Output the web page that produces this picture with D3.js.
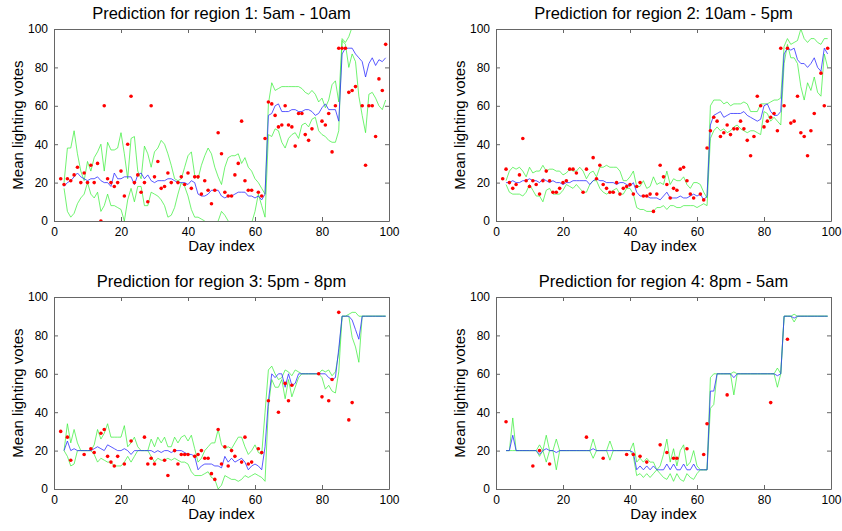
<!DOCTYPE html>
<html>
<head>
<meta charset="utf-8">
<script src="https://cdn.jsdelivr.net/npm/d3@7"></script>
<style>
  body { margin: 0; background: #fff; }
  svg { display: block; font-family: "Liberation Sans", Arial, Helvetica, sans-serif; }
</style>
</head>
<body>
<script>
// day index of the first point of every line (lines run to day 99)
var firstDay = 3;

// region 1: 5am - 10am
var r1Mean = [18,20,21,23,25,23,22,21,22,22, 23,21,20,20,18,25,22,22,23,23, 23,19,24,25,22,24,21,20,21,21,
  21,22,22,21,20,20,20,19,21,20, 14,13,13,14,16,16,16,13,12,13, 13,14,15,15,15,13,13,12,13,11,
  14,55,56,60,61,57,57,57,58,58, 57,57,58,58,57,55,56,59,61,58, 58,58,52,87,90,90,90,87,85,83, 75,82,85,81,84,83,85];
var r1Upper = [20,38,38,47,35,26,21,31,26,33, 36,40,26,41,37,37,38,46,35,22, 43,44,26,22,39,35,28,36,38,42,
  40,35,29,22,21,22,28,34,36,24, 22,29,34,38,35,28,23,19,28,33, 34,34,35,30,33,28,26,22,20,17,
  14,61,72,68,69,70,70,70,70,70, 70,69,67,66,68,66,62,64,59,63, 71,73,62,95,93,96,101,104,106,102, 100,104,106,103,101,104,106];
var r1Lower = [17,5,2,4,9,12,14,20,14,12, 15,5,8,14,8,8,7,6,0,11, 17,10,18,18,8,8,15,14,13,11,
  8,2,3,7,14,20,18,13,6,2, 2,1,0,-2,-3,-2,0,5,3,0, -2,-3,-4,-3,-2,-1,-1,5,14,8,
  2,45,44,48,47,41,38,43,45,46, 43,50,51,49,53,54,47,45,44,42, 41,41,47,94,92,80,87,83,65,55, 46,66,67,64,60,58,63];
var r1Votes = [[2,22],[3,19],[4,22],[5,21],[6,24],[7,28],[8,20],[9,25],[10,20],[11,29],[12,20],[13,30],[14,0],[15,60],
  [16,22],[17,20],[18,18],[19,20],[20,26],[21,13],[22,40],[23,65],[24,20],[25,24],[26,15],[27,20],[28,10],[29,60],
  [30,23],[31,31],[32,17],[33,18],[34,25],[35,20],[37,20],[38,23],[39,19],[40,25],[41,17],[42,23],[43,23],[44,14],
  [45,21],[46,16],[47,9],[48,16],[49,46],[50,35],[51,15],[52,13],[53,13],[54,24],[55,30],[56,52],[57,21],[58,16],
  [59,16],[61,15],[62,13],[63,43],[64,62],[65,61],[66,55],[67,49],[68,50],[69,60],[70,50],[71,49],[72,39],[73,56],
  [74,56],[75,45],[76,42],[77,48],[80,52],[81,50],[82,56],[83,36],[84,60],[85,90],[86,90],[87,90],[88,67],[89,68],
  [90,70],[92,60],[93,29],[94,60],[95,60],[96,44],[97,74],[98,68],[99,92]];

// region 2: 10am - 5pm
var r2Mean = [20,20,21,20,20,21,21,22,21,21, 20,22,21,20,21,20,20,19,20,20, 21,21,21,21,21,19,21,22,21,21,
  20,20,20,19,20,20,19,18,20,15, 13,13,13,12,12,12,11,13,15,12, 12,12,13,12,12,13,14,13,14,11,
  13,50,55,56,57,54,55,56,56,56, 56,57,55,54,53,52,53,60,61,57, 55,55,57,87,90,89,90,84,82,82, 80,82,85,80,78,90,87];
var r2Upper = [21,26,28,27,28,26,23,28,25,26, 26,29,26,27,27,26,26,24,25,27, 26,26,28,26,22,25,26,23,28,28,
  29,28,28,28,26,21,21,23,26,18, 18,21,17,18,23,19,20,19,26,19, 22,21,21,23,19,17,20,20,19,15,
  12,60,63,63,63,61,62,60,61,61, 61,62,61,57,57,57,61,61,61,62, 63,63,64,91,95,92,93,94,100,95, 93,95,95,93,92,95,95];
var r2Lower = [19,15,14,14,14,13,15,19,16,13, 13,10,16,17,14,14,14,16,19,18, 17,19,17,15,15,19,21,21,17,15,
  14,15,16,17,14,14,17,17,14,7, 6,6,5,5,5,7,7,8,6,8, 8,7,7,8,8,8,8,7,8,9,
  8,43,47,49,47,48,46,47,49,50, 48,47,46,47,47,46,45,57,56,52, 54,52,50,82,92,85,85,82,70,63, 72,68,75,67,65,87,80];
var r2Votes = [[2,22],[3,27],[4,20],[5,17],[6,19],[7,24],[8,43],[9,21],[10,18],[11,21],[12,19],[13,14],[14,21],[15,26],
  [16,21],[17,15],[18,15],[19,17],[20,20],[21,21],[22,27],[23,27],[24,25],[26,15],[27,27],[29,33],[30,22],[31,29],
  [32,19],[33,17],[34,15],[35,15],[36,20],[37,14],[38,17],[39,18],[40,19],[41,14],[42,18],[43,20],[44,13],[45,13],
  [46,14],[47,5],[48,14],[49,29],[50,23],[51,19],[52,12],[53,17],[54,16],[55,27],[56,28],[57,21],[58,14],[59,12],
  [61,14],[62,11],[63,38],[64,47],[65,54],[66,52],[67,44],[68,46],[69,50],[70,45],[71,48],[72,48],[73,52],[74,48],
  [75,42],[76,34],[77,44],[78,65],[79,60],[80,49],[81,52],[82,54],[83,56],[84,47],[85,90],[86,60],[87,90],[88,51],
  [89,52],[90,65],[91,46],[92,44],[93,34],[94,47],[95,56],[97,77],[98,60],[99,90]];

// region 3: 5pm - 8pm
var r3Mean = [20,25,20,21,20,20,20,20,20,21, 22,21,20,23,22,21,20,20,21,20, 18,20,20,20,20,20,20,19,20,19,
  20,20,19,20,20,20,19,18,18,17, 10,12,13,13,13,12,12,11,17,14, 16,14,15,16,14,10,12,13,12,10,
  22,46,60,58,60,60,53,60,54,55, 60,60,60,60,60,60,60,60,60,58, 57,58,73,90,90,90,88,83,78,90, 90,90,90,90,90,90,90];
var r3Upper = [20,34,24,31,24,20,20,20,20,23, 31,26,29,34,27,27,27,27,33,22, 24,27,22,20,20,20,26,22,27,24,
  27,22,22,27,24,27,28,25,28,21, 14,16,20,22,24,24,31,23,21,22, 21,24,27,27,22,18,20,23,19,18,
  40,62,64,60,57,58,62,61,59,62, 61,60,60,60,60,60,60,62,61,62, 59,61,71,90,90,91,92,92,90,90, 90,90,90,90,90,90,90];
var r3Lower = [20,17,12,13,20,20,20,20,20,18, 14,16,15,14,14,12,12,12,14,17, 14,17,20,20,20,20,17,14,16,15,
  15,16,15,16,15,14,14,13,9,7, 7,7,8,9,6,5,0,2,7,6, 5,5,4,5,7,6,7,8,7,6,
  4,43,57,53,53,57,47,57,48,53, 58,60,60,60,60,60,60,58,52,54, 51,50,61,90,90,90,79,74,66,90, 90,90,90,90,90,90,90];
var r3Votes = [[2,30],[4,27],[5,15],[9,18],[11,21],[12,19],[14,29],[15,31],[16,17],[17,14],[18,12],[19,17],[21,13],
  [23,25],[27,27],[28,13],[29,16],[30,13],[33,15],[34,7],[36,20],[37,13],[38,18],[39,18],[40,18],[42,17],[43,18],
  [44,20],[45,16],[46,16],[47,8],[48,5],[49,31],[50,13],[51,22],[52,12],[53,20],[54,17],[56,14],[57,27],[58,13],
  [59,14],[61,21],[62,19],[64,46],[67,40],[69,55],[70,46],[71,54],[79,60],[80,48],[82,46],[83,57],[85,92],[88,36],[89,45]];

// region 4: 8pm - 5am
var r4Mean = [20,20,28,20,20,20,20,20,20,20, 18,20,21,20,20,19,20,20,20,20, 20,20,20,20,20,20,21,20,20,20,
  20,20,20,20,20,20,20,20,19,10, 12,10,12,10,12,10,10,10,13,10, 13,10,10,13,10,10,13,10,10,10,
  10,51,51,60,60,60,60,60,58,60, 60,60,60,60,60,60,60,60,60,60, 60,59,60,90,90,90,89,90,90,90, 90,90,90,90,90,90,90];
var r4Upper = [20,20,37,20,20,20,20,20,20,20, 23,20,28,20,20,26,20,20,20,20, 20,20,20,20,20,20,26,20,20,20,
  20,25,20,20,20,20,20,20,24,14, 16,14,16,14,14,10,12,18,26,14, 21,12,20,23,12,14,20,12,10,10,
  10,58,60,60,60,60,60,60,61,60, 60,60,60,60,60,60,60,60,60,60, 60,63,60,90,90,90,91,90,90,90, 90,90,90,90,90,90,90];
var r4Lower = [20,20,20,20,20,20,20,20,20,20, 17,20,14,20,20,10,20,20,20,20, 20,20,20,20,20,20,16,20,20,20,
  20,15,20,20,20,20,20,20,17,7, 8,6,8,6,8,10,8,6,5,8, 4,8,5,4,8,6,5,8,10,10,
  10,42,44,60,60,60,60,60,49,60, 60,60,60,60,60,60,60,60,60,60, 60,53,60,90,90,90,87,90,90,90, 90,90,90,90,90,90,90];
var r4Votes = [[3,35],[11,12],[13,20],[16,13],[27,27],[32,16],[39,18],[41,18],[43,17],[45,14],[49,23],[51,19],
  [53,16],[54,16],[57,21],[62,18],[63,34],[69,49],[82,45],[87,78]];

var titles = ["Prediction for region 1: 5am - 10am", "Prediction for region 2: 10am - 5pm",
  "Prediction for region 3: 5pm - 8pm", "Prediction for region 4: 8pm - 5am"];
var xTicks = [0, 20, 40, 60, 80, 100];
var yTicks = [0, 20, 40, 60, 80, 100];

// layout of the four axes boxes
var boxes = [
  {left: 54, top: 29, w: 335, h: 192},
  {left: 496, top: 29, w: 335, h: 192},
  {left: 54, top: 297, w: 335, h: 192},
  {left: 496, top: 297, w: 335, h: 192}
];

var svg = d3.select("body").append("svg").attr("width", 842).attr("height", 531);

function toPoints(vals) {
  return vals.map(function(v, i) { return [firstDay + i, v]; });
}

function drawPanel(k, mean, upper, lower, votes) {
  var b = boxes[k];
  var x = d3.scaleLinear().domain([0, 100]).range([0, b.w]);
  var y = d3.scaleLinear().domain([0, 100]).range([b.h, 0]);
  var g = svg.append("g").attr("transform", "translate(" + b.left + "," + b.top + ")");

  var clipId = "clip" + k;
  g.append("clipPath").attr("id", clipId).append("rect")
    .attr("width", b.w).attr("height", b.h);

  var line = d3.line().x(function(d) { return x(d[0]); }).y(function(d) { return y(d[1]); });
  var plot = g.append("g").attr("clip-path", "url(#" + clipId + ")");

  // green bounds first so the blue mean stays visible where they coincide
  plot.append("path").datum(toPoints(upper)).attr("d", line)
    .attr("fill", "none").attr("stroke", "#33ee33").attr("stroke-width", 0.7);
  plot.append("path").datum(toPoints(lower)).attr("d", line)
    .attr("fill", "none").attr("stroke", "#33ee33").attr("stroke-width", 0.7);
  plot.append("path").datum(toPoints(mean)).attr("d", line)
    .attr("fill", "none").attr("stroke", "#3030ff").attr("stroke-width", 0.8);

  plot.selectAll("circle").data(votes).enter().append("circle")
    .attr("cx", function(d) { return x(d[0]); })
    .attr("cy", function(d) { return y(d[1]); })
    .attr("r", 1.8)
    .attr("fill", "#ff0000");

  // box with ticks pointing inwards
  var axB = g.append("g").attr("transform", "translate(0," + b.h + ")")
    .call(d3.axisBottom(x).tickValues(xTicks).tickSizeInner(-4).tickSizeOuter(0).tickPadding(6));
  var axL = g.append("g")
    .call(d3.axisLeft(y).tickValues(yTicks).tickSizeInner(-4).tickSizeOuter(0).tickPadding(6));
  var axT = g.append("g")
    .call(d3.axisTop(x).tickValues(xTicks).tickSizeInner(-4).tickSizeOuter(0).tickFormat(""));
  var axR = g.append("g").attr("transform", "translate(" + b.w + ",0)")
    .call(d3.axisRight(y).tickValues(yTicks).tickSizeInner(-4).tickSizeOuter(0).tickFormat(""));

  [axB, axL, axT, axR].forEach(function(a) {
    a.select(".domain").attr("stroke", "#666");
    a.selectAll(".tick line").attr("stroke", "#666");
    a.selectAll(".tick text").attr("fill", "#000").style("font-size", "12px")
      .style("font-family", "'Liberation Sans', Arial, sans-serif");
  });

  g.append("text")
    .attr("x", b.w / 2).attr("y", -10.5)
    .attr("text-anchor", "middle")
    .style("font-size", "16.5px")
    .text(titles[k]);

  g.append("text")
    .attr("x", b.w / 2).attr("y", b.h + 30)
    .attr("text-anchor", "middle")
    .style("font-size", "15px")
    .text("Day index");

  g.append("text")
    .attr("transform", "translate(" + (-31) + "," + (b.h / 2) + ") rotate(-90)")
    .attr("text-anchor", "middle")
    .style("font-size", "15px")
    .text("Mean lighting votes");
}

drawPanel(0, r1Mean, r1Upper, r1Lower, r1Votes);
drawPanel(1, r2Mean, r2Upper, r2Lower, r2Votes);
drawPanel(2, r3Mean, r3Upper, r3Lower, r3Votes);
drawPanel(3, r4Mean, r4Upper, r4Lower, r4Votes);
</script>
</body>
</html>
